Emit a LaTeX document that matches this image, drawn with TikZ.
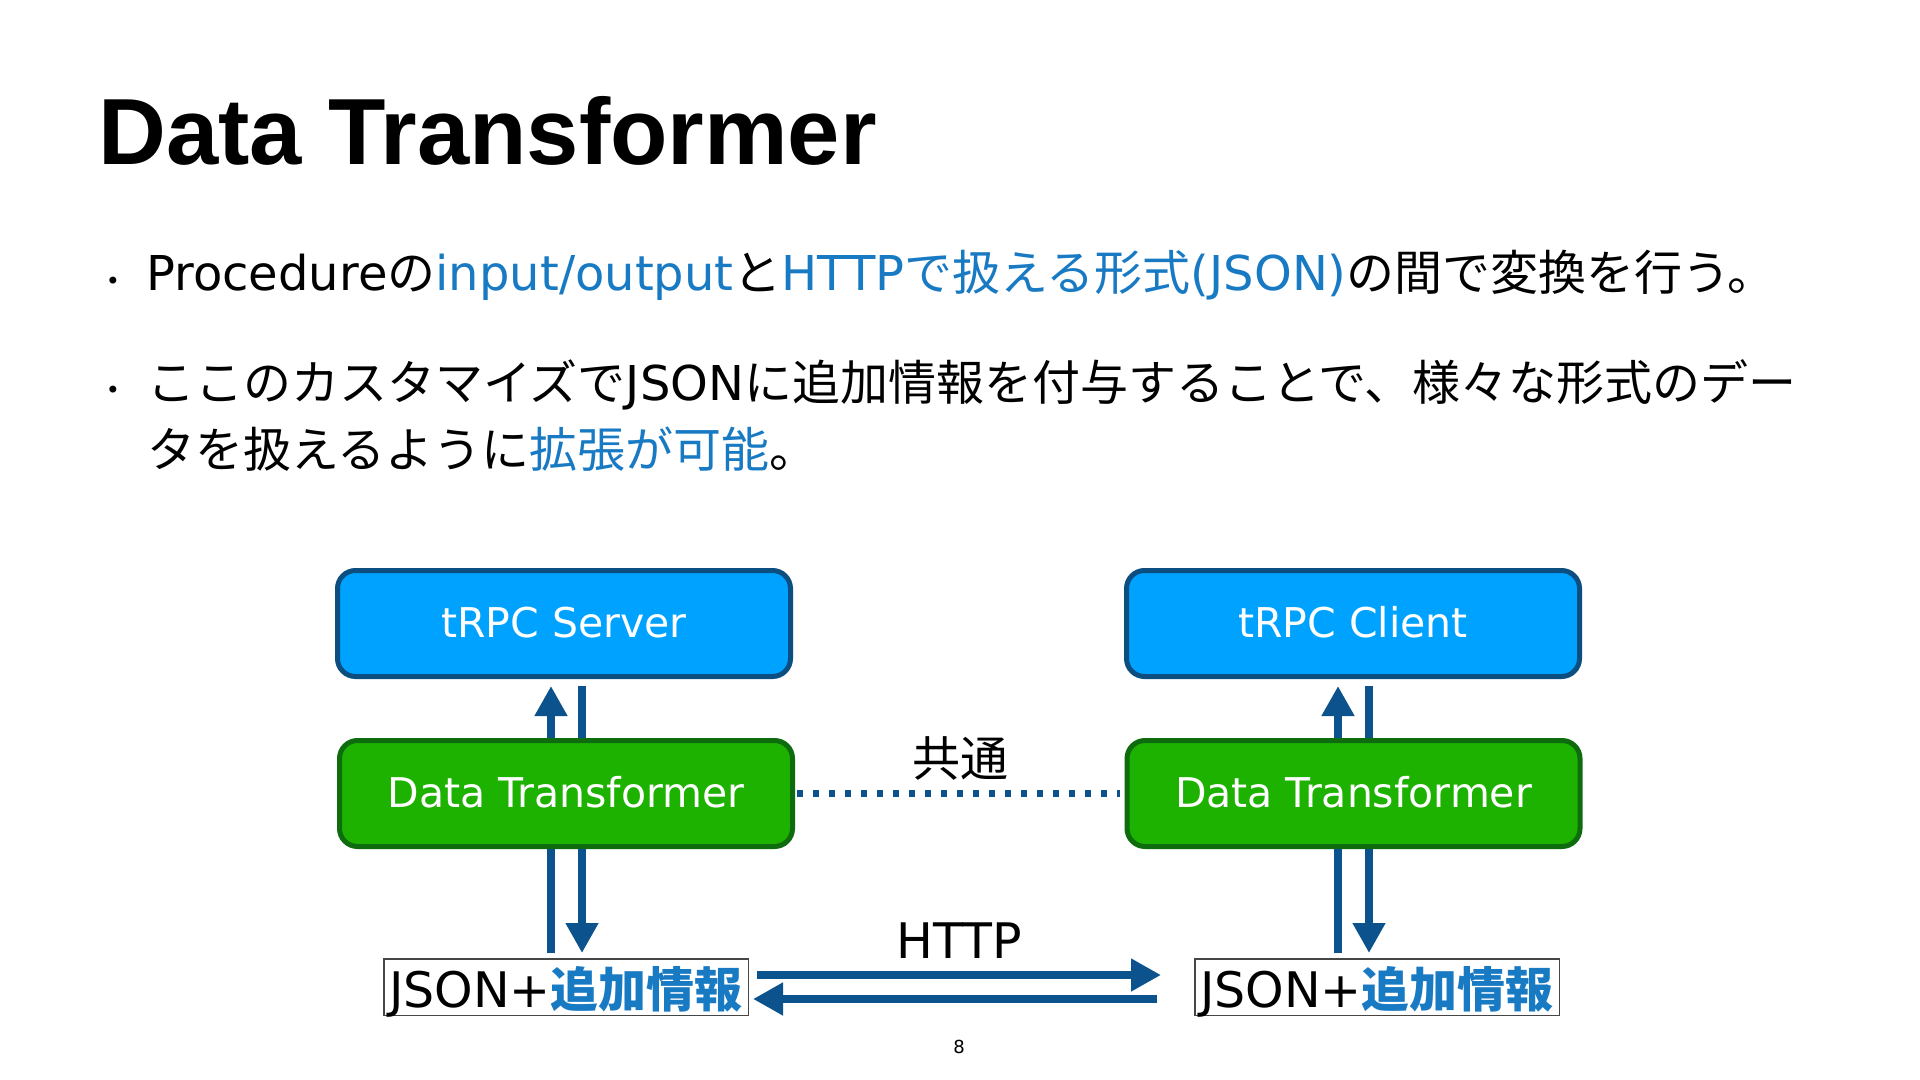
\documentclass[tikz,border=0pt]{standalone}
\usepackage{fontspec}
\setmainfont{DejaVu Sans}
\newfontfamily\jpfont{Noto Sans CJK JP}
\newfontfamily\titlefont{Liberation Sans}
\usetikzlibrary{arrows.meta}

\definecolor{srvfill}{RGB}{0,162,255}
\definecolor{srvline}{RGB}{12,78,128}
\definecolor{dtfill}{RGB}{29,177,0}
\definecolor{dtline}{RGB}{14,108,14}
\definecolor{flowblue}{RGB}{12,82,140}
\definecolor{tblue}{RGB}{25,122,196}
\definecolor{jsline}{RGB}{70,70,70}

\newcommand{\ltn}[1]{{\rmfamily #1}}
\newcommand{\blu}[1]{{\color{tblue}#1}}

\begin{document}
\begin{tikzpicture}[
  x=0.5pt, y=-0.5pt,
  srvbox/.style={draw=srvline, fill=srvfill, line width=2.5pt, rounded corners=9pt,
                 minimum width=226.5pt, minimum height=53pt, inner sep=0pt, text=white,
                 font=\fontsize{20.5}{24}\selectfont, text height=15pt, text depth=1.5pt},
  dtbox/.style={srvbox, draw=dtline, fill=dtfill},
  jsbox/.style={draw=jsline, line width=0.75pt, minimum width=182.25pt, minimum height=28.25pt,
                inner sep=0pt, font=\fontsize{24.5}{30}\selectfont, text height=22pt, text depth=2pt},
  flow/.style={line width=3.75pt, draw=flowblue, -{Triangle[length=15pt, width=15.5pt]}},
  link/.style={line width=3.75pt, draw=flowblue},
  share/.style={line width=3.5pt, draw=flowblue, dash pattern=on 2.75pt off 5.25pt},
  body/.style={anchor=base west, inner sep=0pt, align=left, font=\jpfont\fontsize{24}{33.5}\selectfont},
  dot/.style={inner sep=0pt, font=\fontsize{12}{12}\selectfont},
  label/.style={anchor=base, inner sep=0pt, font=\fontsize{24.5}{28}\selectfont},
]
\useasboundingbox (0,0) rectangle (1920,1080);
\fill[white] (0,0) rectangle (1920,1080);

% --- title and bullets ---
\node[anchor=base west, inner sep=0pt, font=\titlefont\bfseries\fontsize{47}{56}\selectfont]
  (title) at (98,165) {Data Transformer};

\node[dot] (b1) at (113,283) {•};
\node[body] (t1) at (146,291) {\ltn{Procedure}の\blu{\ltn{input/output}}と\blu{\ltn{HTTP}で扱える形式\ltn{(JSON)}}の間で変換を行う。};

% base of a two-line node sits on its last line
\node[dot] (b2) at (113,392) {•};
\node[body] (t2) at (147,467) {ここのカスタマイズで\ltn{JSON}に追加情報を付与することで、様々な形式のデー\\タを扱えるように\blu{拡張が可能}。};

% --- server side (left) ---
\node[srvbox] (srv) at (564,623.5) {tRPC Server};
\node[dtbox] (dtL) at (566,793.5) {Data Transformer};
\node[jsbox] (jsL) at (566,987) {JSON+{\jpfont\bfseries\fontsize{24}{30}\selectfont\color{tblue}追加情報}};

% --- client side (right) ---
\node[srvbox] (cli) at (1353,623.5) {tRPC Client};
\node[dtbox] (dtR) at (1353.5,793.5) {Data Transformer};
\node[jsbox] (jsR) at (1377,987) {JSON+{\jpfont\bfseries\fontsize{24}{30}\selectfont\color{tblue}追加情報}};

% vertical flows
\draw[flow, shorten >=3.5pt] ([xshift=-7.5pt]dtL.north) -- ([xshift=-7.5pt]dtL.north |- srv.south);
\draw[link, shorten <=3.5pt] ([xshift=8pt]dtL.north |- srv.south) -- ([xshift=8pt]dtL.north);
\draw[link, shorten <=2.5pt] ([xshift=-7.5pt]dtL.south |- jsL.north) -- ([xshift=-7.5pt]dtL.south);
\draw[flow, shorten >=2.5pt] ([xshift=8pt]dtL.south) -- ([xshift=8pt]dtL.south |- jsL.north);

\draw[flow, shorten >=3.5pt] ([xshift=-7.75pt]dtR.north) -- ([xshift=-7.75pt]dtR.north |- cli.south);
\draw[link, shorten <=3.5pt] ([xshift=7.75pt]dtR.north |- cli.south) -- ([xshift=7.75pt]dtR.north);
\draw[link, shorten <=2.5pt] ([xshift=-7.75pt]dtR.south |- jsR.north) -- ([xshift=-7.75pt]dtR.south);
\draw[flow, shorten >=2.5pt] ([xshift=7.75pt]dtR.south) -- ([xshift=7.75pt]dtR.south |- jsR.north);

% shared transformer
\draw[share, shorten <=1pt, shorten >=2.5pt] (dtL.east) -- (dtR.west);
\node[inner sep=0pt, font=\jpfont\fontsize{24}{28}\selectfont] (common) at (960,758.5) {共通};

% HTTP exchange
\draw[flow, shorten <=4pt, shorten >=16.5pt] ([yshift=6pt]jsL.east) -- ([yshift=6pt]jsR.west);
\draw[flow, shorten <=18.5pt, shorten >=2pt] ([yshift=-6pt]jsR.west) -- ([yshift=-6pt]jsL.east);
\node[label] (http) at (959,958) {HTTP};

\node[anchor=base, inner sep=0pt, font=\fontsize{9}{10}\selectfont] (page) at (959,1053) {8};
\end{tikzpicture}
\end{document}
